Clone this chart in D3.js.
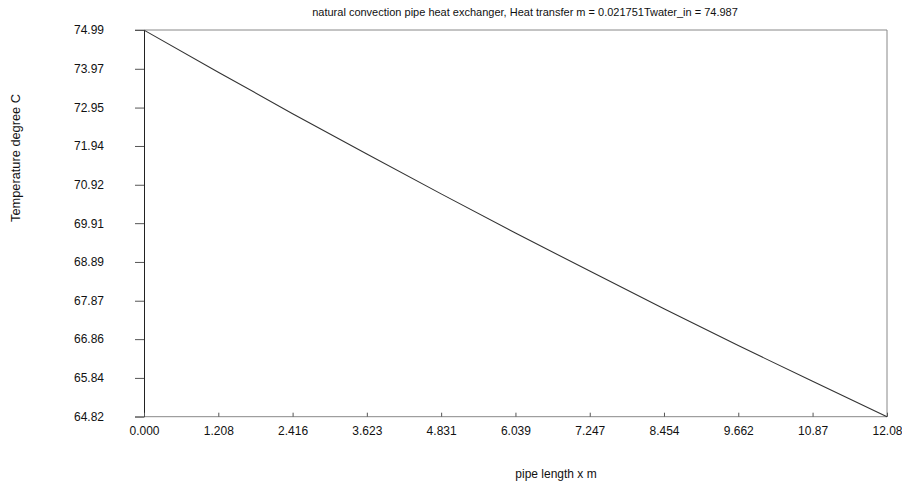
<!DOCTYPE html>
<html>
<head>
<meta charset="utf-8">
<script src="https://cdn.jsdelivr.net/npm/d3@7/dist/d3.min.js"></script>
<style>
  html, body { margin: 0; padding: 0; background: #fff; }
  svg { display: block; font-family: "Liberation Sans", Arial, sans-serif; }
</style>
</head>
<body>
<svg id="chart" width="902" height="488"></svg>
<script>
// ---- data ----
const pipeLength = [0, 1.208, 2.416, 3.623, 4.831, 6.039, 7.247, 8.454, 9.662, 10.87, 12.08];
const waterTemp  = [74.987, 73.88, 72.79, 71.73, 70.68, 69.65, 68.65, 67.66, 66.69, 65.75, 64.82];

const xTickValues = [0, 1.208, 2.416, 3.623, 4.831, 6.039, 7.247, 8.454, 9.662, 10.87, 12.08];
const xTickLabels = ["0.000", "1.208", "2.416", "3.623", "4.831", "6.039", "7.247", "8.454", "9.662", "10.87", "12.08"];
const yTickValues = [74.99, 73.97, 72.95, 71.94, 70.92, 69.91, 68.89, 67.87, 66.86, 65.84, 64.82];
const yTickLabels = ["74.99", "73.97", "72.95", "71.94", "70.92", "69.91", "68.89", "67.87", "66.86", "65.84", "64.82"];

const titleText = "natural convection pipe heat exchanger, Heat transfer m = 0.021751Twater_in = 74.987";
const xLabelText = "pipe length x m";
const yLabelText = "Temperature degree C";

// ---- layout ----
const L = 144, R = 887, T = 30, B = 416.7;
const svg = d3.select("#chart");

const x = d3.scaleLinear().domain([0, 12.08]).range([L, R]);
const y = d3.scaleLinear().domain([64.82, 74.99]).range([B, T]);

// frame lines (top, right, bottom) in grey
svg.append("line").attr("x1", L - 9).attr("x2", R).attr("y1", T).attr("y2", T)
  .attr("stroke", "#888").attr("stroke-width", 1);
svg.append("line").attr("x1", R).attr("x2", R).attr("y1", T).attr("y2", B)
  .attr("stroke", "#888").attr("stroke-width", 1);
svg.append("line").attr("x1", L - 9).attr("x2", R).attr("y1", B).attr("y2", B)
  .attr("stroke", "#888").attr("stroke-width", 1);

// left axis
const yAxis = d3.axisLeft(y)
  .tickValues(yTickValues)
  .tickFormat((d, i) => yTickLabels[i])
  .tickSizeInner(9).tickSizeOuter(0).tickPadding(31);
const gy = svg.append("g").attr("transform", `translate(${L},0)`).call(yAxis);
gy.select(".domain").attr("stroke", "#222");
gy.selectAll(".tick line").attr("stroke", "#555");
gy.selectAll(".tick text").attr("font-size", 12).attr("fill", "#111")
  .attr("font-family", "Liberation Sans, Arial, sans-serif");

// bottom axis (ticks point inward)
const xAxis = d3.axisBottom(x)
  .tickValues(xTickValues)
  .tickFormat((d, i) => xTickLabels[i])
  .tickSizeInner(-4).tickSizeOuter(0).tickPadding(10);
const gx = svg.append("g").attr("transform", `translate(0,${B})`).call(xAxis);
gx.select(".domain").remove();
gx.selectAll(".tick line").attr("stroke", "#555");
gx.selectAll(".tick text").attr("font-size", 12).attr("fill", "#111")
  .attr("font-family", "Liberation Sans, Arial, sans-serif");

// data line
const line = d3.line().x((d, i) => x(pipeLength[i])).y(d => y(d));
svg.append("path").datum(waterTemp)
  .attr("d", line)
  .attr("fill", "none")
  .attr("stroke", "#333")
  .attr("stroke-width", 1.1);

// title
svg.append("text").attr("x", 525).attr("y", 16)
  .attr("text-anchor", "middle").attr("font-size", 11).attr("fill", "#111")
  .text(titleText);

// x label
svg.append("text").attr("x", 556).attr("y", 478)
  .attr("text-anchor", "middle").attr("font-size", 12).attr("fill", "#111")
  .text(xLabelText);

// y label
svg.append("text")
  .attr("transform", "translate(20,158) rotate(-90)")
  .attr("text-anchor", "middle").attr("font-size", 12.8).attr("fill", "#111")
  .text(yLabelText);
</script>
</body>
</html>
